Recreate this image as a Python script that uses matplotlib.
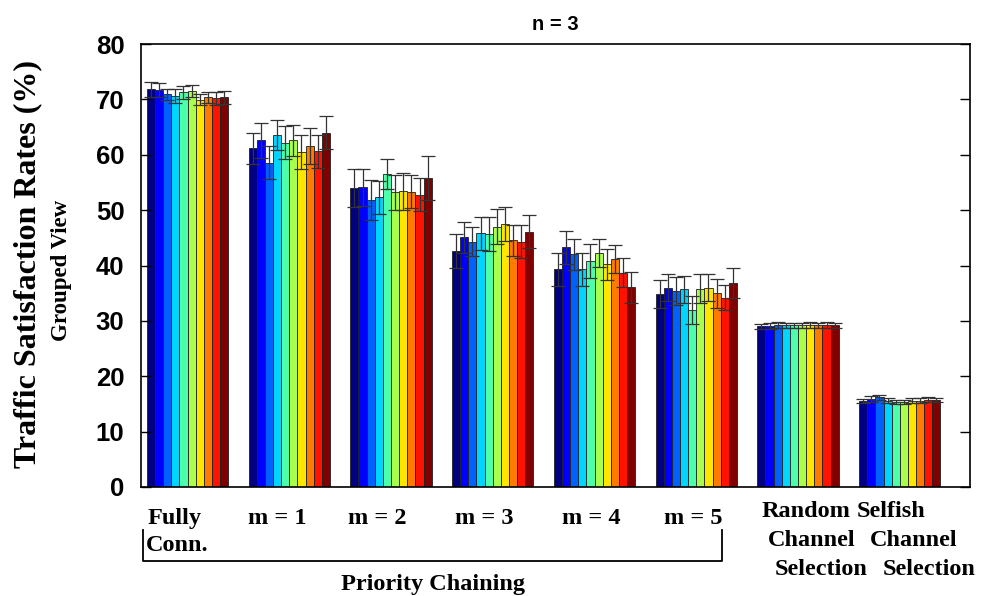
import numpy as np
import matplotlib
matplotlib.use("Agg")
import matplotlib.pyplot as plt
from matplotlib.lines import Line2D

# valores por grupo (10 barras por grupo)
groups = ["Fully Conn.", "m = 1", "m = 2", "m = 3", "m = 4", "m = 5",
          "Random Channel Selection", "Selfish Channel Selection"]

fully = [71.8, 71.7, 70.9, 70.6, 71.3, 71.5, 69.9, 70.4, 70.2, 70.4]
fully_err = [1.3, 1.2, 1.0, 1.2, 1.2, 1.1, 1.0, 1.0, 1.2, 1.2]
m1 = [61.2, 62.6, 58.6, 63.6, 62.2, 62.6, 60.5, 61.6, 60.6, 64.0]
m1_err = [2.8, 3.2, 3.0, 2.7, 3.0, 2.8, 3.0, 3.2, 3.0, 3.0]
m2 = [54.0, 54.1, 51.8, 52.3, 56.6, 53.2, 53.4, 53.3, 52.8, 55.8]
m2_err = [3.5, 3.4, 3.6, 3.0, 2.7, 3.2, 3.3, 3.0, 3.0, 3.9]
m3 = [42.6, 45.1, 44.3, 45.8, 45.7, 47.0, 47.5, 44.6, 44.3, 46.1]
m3_err = [3.0, 2.8, 2.6, 3.0, 3.0, 3.2, 3.0, 2.8, 3.0, 3.0]
m4 = [39.3, 43.3, 42.0, 39.3, 40.8, 42.2, 40.2, 41.2, 38.7, 36.1]
m4_err = [3.0, 3.0, 2.8, 3.0, 3.0, 2.5, 2.8, 2.5, 2.6, 2.8]
m5 = [34.9, 36.0, 35.4, 35.7, 32.0, 35.8, 36.0, 35.0, 34.2, 36.8]
m5_err = [2.5, 2.5, 2.5, 2.4, 2.5, 2.6, 2.4, 2.6, 2.3, 2.7]
rand = [29.0, 29.1, 29.3, 29.2, 29.2, 29.2, 29.3, 29.2, 29.3, 29.2]
rand_err = [0.5, 0.5, 0.5, 0.5, 0.5, 0.5, 0.5, 0.5, 0.5, 0.5]
selfish = [15.5, 15.9, 16.2, 15.6, 15.4, 15.4, 15.6, 15.6, 15.8, 15.7]
selfish_err = [0.4, 0.5, 0.5, 0.4, 0.4, 0.4, 0.5, 0.5, 0.4, 0.4]

vals = np.array([fully, m1, m2, m3, m4, m5, rand, selfish])
errs = np.array([fully_err, m1_err, m2_err, m3_err, m4_err, m5_err, rand_err, selfish_err])

n_bars = vals.shape[1]
colors = plt.cm.jet(np.linspace(0.0, 1.0, n_bars))
x = np.arange(1, len(groups) + 1)
w = 0.08

fig = plt.figure(figsize=(9.89, 5.96), dpi=100)
ax = fig.add_axes([141/989, 1 - 487/596, (970-141)/989, (487-44)/596])

for i in range(n_bars):
    xi = x + (i - (n_bars - 1) / 2) * w
    ax.bar(xi, vals[:, i], w, color=colors[i], edgecolor="#202020", linewidth=0.6)
    ax.errorbar(xi, vals[:, i], yerr=errs[:, i], fmt="none", ecolor="#333333",
                elinewidth=0.9, capsize=5, capthick=0.9)

ax.set_xlim(0.543, 8.69)
ax.set_ylim(0, 80)
ax.set_yticks(np.arange(0, 81, 10))
ax.set_xticks([])
ax.tick_params(axis="y", direction="in", length=7, width=1, right=True,
               labelsize=18.5, pad=12)
for lab in ax.get_yticklabels():
    lab.set_fontweight("bold")
    lab.set_family("Liberation Sans")
for s in ax.spines.values():
    s.set_linewidth(1.2)

ax.set_title("n = 3", fontsize=14.5, fontweight="bold", family="Liberation Sans", pad=10)

serif = dict(family="Liberation Serif", fontweight="bold", fontsize=17.5)
fig.text(28/989, 1 - 264/596, "Traffic Satisfaction Rates (%)", rotation=90,
         ha="center", va="center", family="Liberation Serif", fontweight="bold", fontsize=23)
fig.text(62/989, 1 - 270/596, "Grouped View", rotation=90,
         ha="center", va="center", family="Liberation Serif", fontweight="bold", fontsize=16.5)

# etiquetas del eje x
def ft(px, py, s, ha="left"):
    fig.text(px/989, 1 - py/596, s, ha=ha, va="baseline", **serif)

ft(148, 524, "Fully")
ft(146, 551, "Conn.")
for k, cx in zip(range(1, 6), [277, 377, 484, 591, 693]):
    ft(cx, 524, "m = %d" % k, ha="center")
ft(762, 517, "Random")
ft(768, 546, "Channel")
ft(775, 575, "Selection")
ft(857, 517, "Selfish")
ft(870, 546, "Channel")
ft(883, 575, "Selection")
ft(433, 590, "Priority Chaining", ha="center")

# corchete de Priority Chaining
bx = [143/989, 143/989, 722/989, 722/989]
by = [1 - 530/596, 1 - 561/596, 1 - 561/596, 1 - 530/596]
fig.add_artist(Line2D(bx, by, color="black", linewidth=1.3))

fig.savefig("out.png", dpi=100)
